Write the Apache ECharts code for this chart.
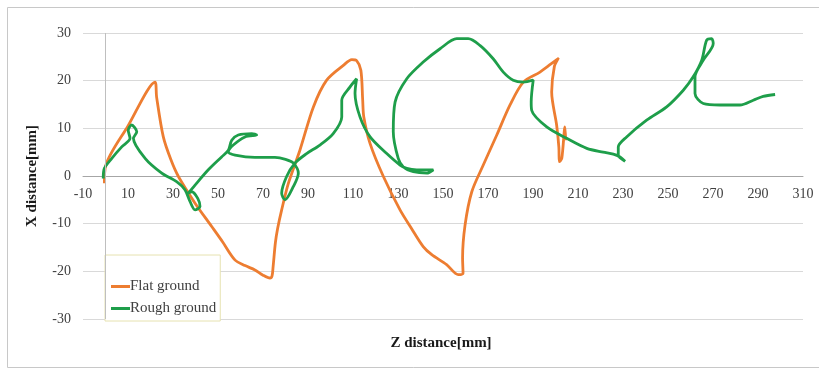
<!DOCTYPE html>
<html>
<head>
<meta charset="utf-8">
<script src="https://cdn.jsdelivr.net/npm/echarts@6/dist/echarts.min.js"></script>
<style>html,body{margin:0;padding:0;background:#fff}#c{width:819px;height:370px}</style>
</head>
<body>
<div id="c"></div>
<script>
var seriesNames = ['Flat ground', 'Rough ground'];
var xTickLabels = ['-10','10','30','50','70','90','110','130','150','170','190','210','230','250','270','290','310'];
var yTickLabels = ['-30','-20','-10','0','10','20','30'];

var flatX = [-0.5,0,10,22,22.7,25.7,29,32.4,39.8,47.2,52,57.5,62,66.4,70,73.1,74,74.5,75.5,76.5,78.3,81.3,86.4,92.4,98.3,105.7,109.5,111.6,113.5,114.3,114.8,117.6,123.5,130.9,136,141.2,145,151.6,156.8,158.9,158.7,159.8,162.8,167.9,173.9,179.8,185.7,193.1,198,201.2,199.5,198.3,200.5,201.5,201.7,202.8,204.2,204.5];
var flatY = [-1.5,2,10.5,19.7,16.6,8.2,3.5,-0.1,-5.7,-10.6,-13.8,-17.6,-18.8,-19.7,-20.8,-21.4,-21,-19,-14,-11,-7.1,-1.5,5.4,14.5,20.1,23.2,24.4,24.2,22.2,16,12.4,6.8,-0.1,-7.1,-11,-14.8,-16.5,-18.6,-20.7,-20.4,-17.2,-10.3,-3.3,2.3,8.6,14.9,19.7,21.8,23.5,24.6,23,17.6,10.7,6,3,3.7,10.3,7.5];

var roughX = [-1,-0.5,2.8,7.2,10.9,10.1,11.6,13.9,12.4,17.6,25,31.6,35.3,37.6,39.8,42,41,38.3,36.8,39.8,45.7,51.6,54.6,56.1,59,65,67.2,62,56.8,54.6,57.6,66.4,75.3,80,83.5,85.7,83.5,79.8,78.3,80.5,84.2,89.4,95.3,101.2,105,105,108.7,111.6,110.9,113.1,117.6,125,130.9,133.9,138.3,145.7,142.8,136.8,132.4,130.1,127.9,128.7,133.9,141.2,148.7,156.1,161.2,166.4,172.3,176.8,181.2,185.7,190.1,189.2,189.4,196.1,205,213.9,221.2,225.7,228.7,230.9,227.9,227.9,231.6,240.5,249.4,256.8,261.2,265,267.2,269.4,270.1,265.7,262,262,265.7,273.1,282,287.9,292.3,297.6];
var roughY = [-0.5,1.6,3.7,6.1,7.9,9.6,10.7,9.3,7.9,3.7,0.6,-1.2,-2.9,-5.4,-7.1,-6.4,-4.7,-3.3,-3.6,-1.9,1.3,4,5.4,7.5,8.6,8.9,8.6,8.2,6.5,5.1,4.4,3.9,3.9,3.5,2.7,0.6,-2.2,-5,-3.6,-0.1,2.7,4.7,6.5,8.9,12.4,15.9,18.7,20.4,17.3,12.4,8.2,4.7,2.3,1.6,1.3,1.3,0.6,0.9,1.9,3.7,9.3,15.5,20.4,23.9,26.7,28.8,28.8,27.4,24.6,21.8,20.1,19.7,20.1,15.5,13.8,10.3,7.9,5.8,5,4.6,4,3.1,4.4,6.1,8.2,11.7,14.5,18,20.8,24.3,28.5,28.8,27.8,24.3,20.8,17.3,15.2,14.9,14.9,15.9,16.7,17.1];

function pairs(xs, ys){ var o=[]; for(var i=0;i<xs.length;i++) o.push([xs[i], ys[i]]); return o; }

var serif = '"Liberation Serif","DejaVu Serif",serif';
var gridTop = 33, gridBottomPx = 319;
var zeroOffset = -Math.round((gridBottomPx - gridTop) / 2);
var chart = echarts.init(document.getElementById('c'));
chart.setOption({
  animation: false,
  backgroundColor: '#fff',
  grid: {left: 83, right: 16, top: gridTop, bottom: 370 - gridBottomPx, containLabel: false},
  xAxis: {
    type: 'value', min: -10, max: 310, interval: 10, position: 'bottom', offset: zeroOffset,
    axisLine: {onZero: false, lineStyle: {color: '#a6a6a6', width: 1}},
    axisTick: {show: false},
    splitLine: {show: false},
    axisLabel: {
      margin: 11, color: '#404040', fontFamily: serif, fontSize: 14,
      formatter: function(v){ var s = String(Math.round(v)); return xTickLabels.indexOf(s) >= 0 ? s : ''; }
    }
  },
  yAxis: {
    type: 'value', min: -30, max: 30, interval: 10,
    axisLine: {show: false, onZero: false},
    axisTick: {show: false},
    splitLine: {lineStyle: {color: '#d9d9d9', width: 1}},
    axisLabel: {
      margin: 12, color: '#404040', fontFamily: serif, fontSize: 14,
      formatter: function(v){ var s = String(Math.round(v)); return yTickLabels.indexOf(s) >= 0 ? s : ''; }
    }
  },
  legend: {
    left: 105, top: 255, orient: 'vertical', padding: [24, 4, 5, 6], itemGap: 7,
    borderColor: '#e6e2b0', borderWidth: 1, backgroundColor: '#fff',
    icon: 'rect', itemWidth: 19, itemHeight: 3,
    textStyle: {fontFamily: serif, fontSize: 15, color: '#404040', padding: [0,0,0,-5]},
    data: seriesNames
  },
  graphic: [
    {type: 'rect', z: -1, silent: true, shape: {x: 7.5, y: 7.5, width: 840, height: 360}, style: {fill: 'none', stroke: '#c8c8c8', lineWidth: 1}},
    {type: 'text', x: 441, y: 343, style: {text: 'Z distance[mm]', x: 0, y: 0, align: 'center', verticalAlign: 'middle', font: 'bold 15px ' + serif, fill: '#1a1a1a'}},
    {type: 'text', rotation: Math.PI/2, x: 32, y: 176, style: {text: 'X distance[mm]', x: 0, y: 0, align: 'center', verticalAlign: 'middle', font: 'bold 15px ' + serif, fill: '#1a1a1a'}}
  ],
  series: [
    {
      name: seriesNames[0], type: 'line', data: pairs(flatX, flatY), symbol: 'none', smooth: 0.3,
      lineStyle: {color: '#ED7D31', width: 2.8}, itemStyle: {color: '#ED7D31'}, z: 3
    },
    {
      name: seriesNames[1], type: 'line', data: pairs(roughX, roughY), symbol: 'none', smooth: 0.3,
      lineStyle: {color: '#1E9E4A', width: 2.8}, itemStyle: {color: '#1E9E4A'}, z: 4,
      markLine: {silent: true, symbol: 'none', label: {show: false}, lineStyle: {color: '#bfbfbf', type: 'solid', width: 1}, data: [{xAxis: 0}]}
    }
  ]
});
</script>
</body>
</html>
